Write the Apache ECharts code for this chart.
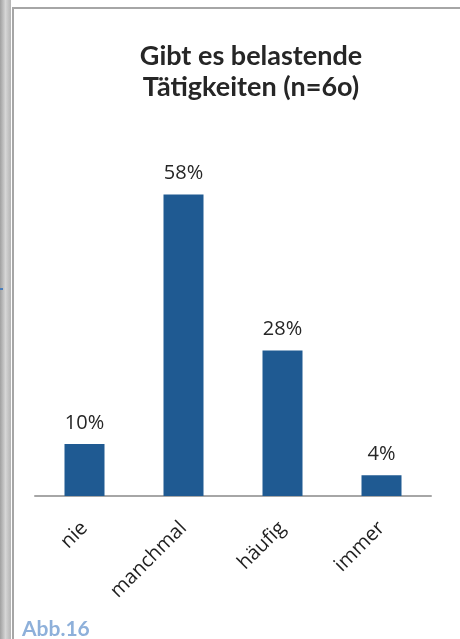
<!DOCTYPE html>
<html>
<head>
<meta charset="utf-8">
<title>Gibt es belastende Tätigkeiten</title>
<script src="https://cdn.jsdelivr.net/npm/echarts@6/dist/echarts.min.js"></script>
</head>
<body style="margin:0px;background:#fff;">
<div id="main" style="width:460px;height:639px;"></div>
<script type="text/javascript">
var categories = ['nie', 'manchmal', 'häufig', 'immer'];
var values = [10, 58, 28, 4];

var chart = echarts.init(document.getElementById('main'));

chart.setOption({
    backgroundColor: '#ffffff',
    animation: false,
    title: {
        text: 'Gibt es belastende\nTätigkeiten (n=6o)',
        left: 246,
        top: 36,
        textAlign: 'center',
        textStyle: {
            fontFamily: 'Lato',
            fontWeight: 'bold',
            fontSize: 27,
            lineHeight: 31,
            color: '#262626'
        }
    },
    grid: {
        left: 35,
        right: 29,
        top: 184,
        bottom: 143
    },
    xAxis: {
        type: 'category',
        data: categories,
        axisLine: { lineStyle: { color: '#a6a6a6', width: 2 } },
        axisTick: { show: false },
        axisLabel: {
            rotate: 45,
            margin: 29,
            fontFamily: 'Open Sans',
            fontSize: 20,
            color: '#1f1f1f'
        }
    },
    yAxis: {
        type: 'value',
        min: 0,
        max: 60,
        show: false
    },
    series: [{
        type: 'bar',
        data: values,
        barWidth: 40,
        itemStyle: { color: '#1f5a92' },
        label: {
            show: true,
            position: 'top',
            distance: 11,
            formatter: '{c}%',
            fontFamily: 'Open Sans',
            fontSize: 20,
            color: '#262626'
        }
    }],
    graphic: [
        {
            type: 'rect',
            shape: { x: 0, y: 0, width: 11, height: 639 },
            style: {
                fill: new echarts.graphic.LinearGradient(0, 0, 1, 0, [
                    { offset: 0, color: '#a0a0a0' },
                    { offset: 0.5, color: '#d6d6d6' },
                    { offset: 1, color: '#b4b4b4' }
                ])
            }
        },
        {
            type: 'rect',
            shape: { x: 12, y: 8, width: 2, height: 631 },
            style: { fill: '#a6a6a6' }
        },
        {
            type: 'rect',
            shape: { x: 12, y: 7, width: 448, height: 2 },
            style: { fill: '#a6a6a6' }
        },
        {
            type: 'rect',
            shape: { x: 0, y: 288, width: 3, height: 2 },
            style: { fill: '#4a7ebb' }
        },
        {
            type: 'text',
            left: 22,
            top: 619,
            style: {
                text: 'Abb.16',
                fontFamily: 'Lato',
                fontWeight: 'bold',
                fontSize: 21,
                fill: '#8eb0da'
            }
        }
    ]
});
</script>
</body>
</html>
